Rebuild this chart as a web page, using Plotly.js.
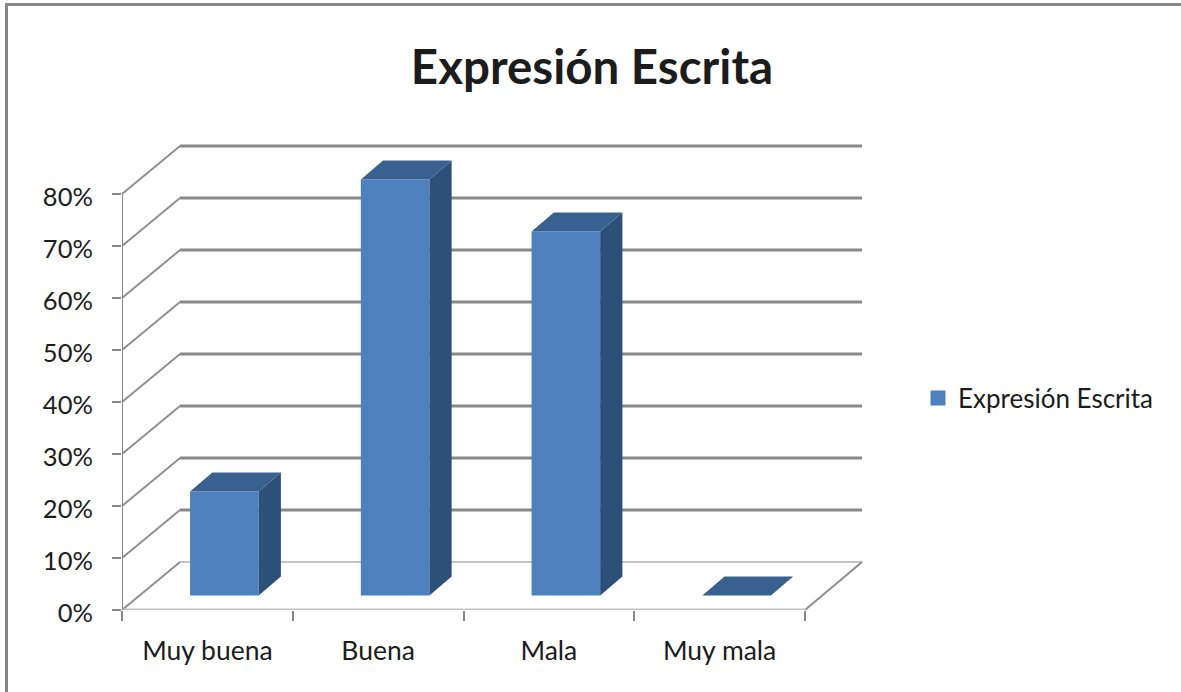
<!DOCTYPE html>
<html>
<head>
<meta charset="utf-8">
<script src="https://cdn.plot.ly/plotly-3.0.1.min.js"></script>
<style>html,body{margin:0;padding:0;background:#fff;overflow:hidden}</style>
</head>
<body>
<div id="chart" style="width:1181px;height:692px"></div>
<script>
// Survey results: written expression ratings, drawn as a pseudo-3D column chart.
const categories = ['Muy buena', 'Buena', 'Mala', 'Muy mala'];
const values = [20, 80, 70, 0];
const percentTicks = [0, 10, 20, 30, 40, 50, 60, 70, 80];
const seriesName = 'Expresión Escrita';

// Pixel scale of the axes and the oblique projection of the depth direction.
const W = 1181, H = 692;
const plotLeft = 122, plotBottom = 610, plotTop = 140, plotRight = 866;
const pxPerCat = 170.75, pxPerPct = 5.2;
const wallDx = 58 / pxPerCat, wallDy = 48 / pxPerPct;   // floor depth
const barFrontDx = 17 / pxPerCat, barFrontDy = 14.4 / pxPerPct; // depth of a column's front face
const barDepthDx = 22.2 / pxPerCat, barDepthDy = 19 / pxPerPct; // depth of a column itself
const barWidth = 68.6 / pxPerCat;

const GRID = '#8a8a8a', FLOOR = '#c4c4c4', AXIS = '#868686';
const FRONT = '#4d80bd', SIDE = '#2c5078', TOPFACE = '#38618f';

const nCat = categories.length;
const line = (x0, y0, x1, y1, color, width) => ({
  type: 'line', layer: 'below', xref: 'x', yref: 'y', x0, y0, x1, y1,
  line: {color, width}
});

// Back wall gridlines and the diagonal wall lines running to the front plane.
const shapes = [];
percentTicks.forEach(t => {
  shapes.push(line(wallDx, t + wallDy, nCat + wallDx - 1 / pxPerCat, t + wallDy, t === 0 ? FLOOR : GRID, t === 0 ? 2 : 3));
  shapes.push(line(0, t, wallDx, t + wallDy, '#8f8f8f', 2));
});
shapes.push(line(nCat, 0, nCat + wallDx - 1 / pxPerCat, wallDy, '#8f8f8f', 2));
shapes.push(line(0, 0, nCat, 0, FLOOR, 3));
shapes.push(line(0, 0, 0, 80, AXIS, 2));

// Chart frame along the top and left edges.
const toPaperX = x => (x - plotLeft) / (plotRight - plotLeft);
const toPaperY = y => (plotBottom - y) / (plotBottom - plotTop);
shapes.push({type: 'line', xref: 'paper', yref: 'paper', x0: toPaperX(6.5), x1: toPaperX(W), y0: toPaperY(4.5), y1: toPaperY(4.5), line: {color: AXIS, width: 3}});
shapes.push({type: 'line', xref: 'paper', yref: 'paper', x0: toPaperX(6.5), x1: toPaperX(6.5), y0: toPaperY(3), y1: toPaperY(H), line: {color: AXIS, width: 3}});

// Side and top faces of each column, as closed polygons separated by gaps.
const sideX = [], sideY = [], topX = [], topY = [];
values.forEach((v, i) => {
  const x0 = i + 0.5 + barFrontDx - barWidth / 2, x1 = x0 + barWidth;
  const yb = barFrontDy, yt = v + barFrontDy;
  if (v > 0) {
    sideX.push(x1, x1 + barDepthDx, x1 + barDepthDx, x1, x1, null);
    sideY.push(yb, yb + barDepthDy, yt + barDepthDy, yt, yb, null);
  }
  topX.push(x0, x1, x1 + barDepthDx, x0 + barDepthDx, x0, null);
  topY.push(yt, yt, yt + barDepthDy, yt + barDepthDy, yt, null);
});

const traces = [
  {
    type: 'bar', name: seriesName, showlegend: false,
    x: categories.map((_, i) => i + 0.5 + barFrontDx),
    y: values, base: values.map(() => barFrontDy), width: barWidth,
    marker: {color: FRONT, line: {width: 0}}, hoverinfo: 'skip'
  },
  {type: 'scatter', mode: 'lines', x: sideX, y: sideY, fill: 'toself', fillcolor: SIDE, line: {width: 0, color: SIDE}, showlegend: false, hoverinfo: 'skip'},
  {type: 'scatter', mode: 'lines', x: topX, y: topY, fill: 'toself', fillcolor: TOPFACE, line: {width: 0, color: TOPFACE}, showlegend: false, hoverinfo: 'skip'},
  // Legend key only.
  {type: 'scatter', mode: 'markers', x: [null], y: [null], name: seriesName, marker: {symbol: 'square', size: 15, color: FRONT}, showlegend: true}
];

const textColor = '#1c1c1c';
const layout = {
  width: W, height: H,
  paper_bgcolor: '#fff', plot_bgcolor: 'rgba(0,0,0,0)',
  margin: {l: plotLeft, r: W - plotRight, t: plotTop, b: H - plotBottom, pad: 0},
  font: {family: 'Lato, sans-serif', color: textColor, size: 25},
  title: {text: 'Expresión Escrita', x: 592 / W, xref: 'container', xanchor: 'center', y: 1 - 67 / H, yref: 'container', yanchor: 'middle', font: {family: 'Lato, sans-serif', size: 47.5, weight: 700, color: textColor}},
  xaxis: {
    range: [0, (plotRight - plotLeft) / pxPerCat], showgrid: false, zeroline: false, showline: false,
    tickmode: 'array', tickvals: categories.map((_, i) => i + 0.5), ticktext: categories,
    ticks: '', ticklen: 0, ticklabelstandoff: 22, tickangle: 0,
    tickfont: {size: 26.5, color: textColor},
    minor: {tickmode: 'array', tickvals: [0, 1, 2, 3, 4], ticks: 'outside', ticklen: 10, tickwidth: 2, tickcolor: AXIS, showgrid: false}
  },
  yaxis: {
    range: [0, (plotBottom - plotTop) / pxPerPct], showgrid: false, zeroline: false, showline: false,
    tickmode: 'array', tickvals: percentTicks, ticktext: percentTicks.map(t => t + '%'),
    ticks: 'outside', ticklen: 9, tickwidth: 2, tickcolor: AXIS, ticklabelstandoff: 14,
    ticklabelshift: 3,
    tickfont: {size: 25.5, color: textColor}
  },
  showlegend: true,
  legend: {x: toPaperX(918), y: toPaperY(398), xanchor: 'left', yanchor: 'middle', bgcolor: 'rgba(0,0,0,0)', font: {size: 26, color: textColor}, itemwidth: 30, itemclick: false},
  shapes
};

Plotly.newPlot('chart', traces, layout, {displayModeBar: false, staticPlot: true});
</script>
</body>
</html>
